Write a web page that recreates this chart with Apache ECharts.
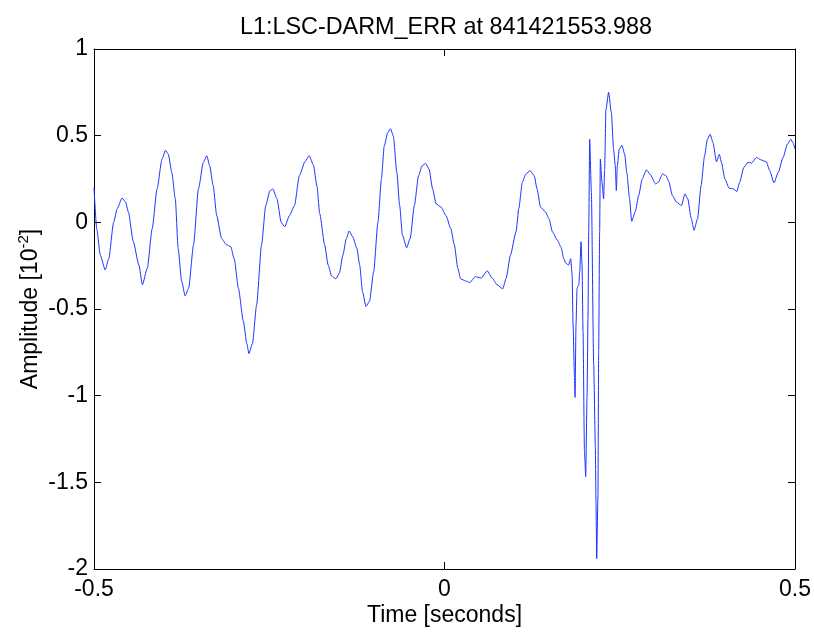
<!DOCTYPE html>
<html>
<head>
<meta charset="utf-8">
<script src="https://cdn.jsdelivr.net/npm/echarts@6/dist/echarts.min.js"></script>
<style>
  html, body { margin: 0; padding: 0; background: #fff; }
  #chart { width: 814px; height: 632px; }
</style>
</head>
<body>
<div id="chart"></div>
<script>
// DARM error signal around the event time (seconds relative to GPS 841421553.988)
var times = [
  -0.500, -0.496, -0.491, -0.484, -0.479, -0.472, -0.467, -0.460, -0.455, -0.451,
  -0.444, -0.436, -0.431, -0.424, -0.417, -0.410, -0.403, -0.398, -0.394, -0.389,
  -0.384, -0.380, -0.375, -0.370, -0.365, -0.358, -0.351, -0.344, -0.339, -0.335,
  -0.330, -0.325, -0.318, -0.311, -0.305, -0.300, -0.294, -0.287, -0.282, -0.279,
  -0.274, -0.268, -0.261, -0.255, -0.249, -0.245, -0.239, -0.233, -0.228, -0.221,
  -0.214, -0.207, -0.199, -0.193, -0.187, -0.182, -0.178, -0.171, -0.166, -0.161,
  -0.155, -0.150, -0.145, -0.140, -0.136, -0.131, -0.125, -0.121, -0.117, -0.112,
  -0.107, -0.101, -0.095, -0.090, -0.086, -0.081, -0.077, -0.073, -0.068, -0.064,
  -0.060, -0.054, -0.049, -0.043, -0.037, -0.032, -0.027, -0.022, -0.017, -0.012,
  -0.005, 0.002, 0.009, 0.014, 0.019, 0.023, 0.030, 0.036, 0.044, 0.052,
  0.061, 0.068, 0.075, 0.083, 0.088, 0.094, 0.102, 0.106, 0.111, 0.116,
  0.122, 0.128, 0.132, 0.137, 0.144, 0.149, 0.154, 0.161, 0.166, 0.170,
  0.173, 0.177, 0.180, 0.182, 0.1834, 0.1854, 0.1862, 0.1876, 0.1891, 0.1915,
  0.1929, 0.1947, 0.1962, 0.1976, 0.1996, 0.2014, 0.2033, 0.2047, 0.2057, 0.2071,
  0.2095, 0.2128, 0.2152, 0.2161, 0.2171, 0.2189, 0.2199, 0.2213, 0.2223, 0.2246,
  0.2270, 0.2284, 0.2303, 0.2341, 0.2380, 0.2412, 0.2436, 0.2451, 0.2465, 0.2493,
  0.253, 0.257, 0.260, 0.264, 0.267, 0.272, 0.277, 0.282, 0.288, 0.293,
  0.301, 0.305, 0.311, 0.316, 0.320, 0.325, 0.331, 0.338, 0.343, 0.347,
  0.352, 0.356, 0.361, 0.366, 0.371, 0.375, 0.379, 0.383, 0.388, 0.392,
  0.395, 0.400, 0.406, 0.412, 0.417, 0.421, 0.427, 0.433, 0.438, 0.445,
  0.451, 0.459, 0.464, 0.470, 0.476, 0.483, 0.489, 0.494, 0.497, 0.500
];
var amplitude = [
  0.20, -0.04, -0.19, -0.275, -0.21, 0.00, 0.078, 0.14, 0.117, 0.06,
  -0.11, -0.246, -0.36, -0.265, -0.036, 0.193, 0.365, 0.416, 0.393, 0.288,
  0.136, -0.15, -0.34, -0.424, -0.38, -0.13, 0.193, 0.346, 0.384, 0.326,
  0.212, 0.04, -0.093, -0.13, -0.14, -0.21, -0.38, -0.57, -0.70, -0.757,
  -0.70, -0.475, -0.13, 0.097, 0.183, 0.193, 0.136, 0.00, -0.026, 0.04,
  0.097, 0.27, 0.35, 0.384, 0.33, 0.21, 0.05, -0.13, -0.246, -0.31,
  -0.326, -0.294, -0.19, -0.093, -0.05, -0.083, -0.15, -0.246, -0.40, -0.485,
  -0.456, -0.284, 0.00, 0.25, 0.44, 0.517, 0.54, 0.498, 0.288, 0.097,
  -0.074, -0.147, -0.093, 0.097, 0.269, 0.326, 0.34, 0.307, 0.193, 0.107,
  0.088, 0.04, -0.036, -0.13, -0.265, -0.326, -0.338, -0.347, -0.313, -0.322,
  -0.28, -0.322, -0.36, -0.384, -0.322, -0.19, -0.055, 0.08, 0.231, 0.279,
  0.298, 0.269, 0.193, 0.088, 0.06, 0.021, -0.055, -0.103, -0.141, -0.208,
  -0.236, -0.246, -0.21, -0.30, -0.59, -0.895, -1.01, -0.59, -0.38, -0.36,
  -0.284, -0.112, -0.246, -0.627, -1.314, -1.467, -1.01, -0.55, -0.055, 0.479,
  0.174, -0.82, -1.295, -1.62, -1.94, -1.58, -0.742, -0.053, 0.365, 0.231,
  0.136, 0.307, 0.651, 0.75, 0.632, 0.422, 0.326, 0.183, 0.326, 0.422,
  0.445, 0.393, 0.288, 0.136, 0.006, 0.06, 0.155, 0.25, 0.303, 0.279,
  0.222, 0.231, 0.279, 0.269, 0.235, 0.155, 0.117, 0.097, 0.164, 0.136,
  0.021, -0.046, 0.021, 0.212, 0.384, 0.479, 0.508, 0.46, 0.349, 0.393,
  0.346, 0.25, 0.197, 0.193, 0.178, 0.231, 0.317, 0.346, 0.342, 0.374,
  0.361, 0.349, 0.298, 0.227, 0.288, 0.374, 0.45, 0.479, 0.46, 0.422
];

var titleText = 'L1:LSC-DARM_ERR at 841421553.988';
var xName = 'Time [seconds]';
var yName = 'Amplitude [10{sup|-2}]';

var FONT = '"Liberation Sans", Arial, Helvetica, sans-serif';
var FS = 23;

var points = times.map(function (t, i) { return [t, amplitude[i]]; });

var chart = echarts.init(document.getElementById('chart'), null, { renderer: 'canvas' });

// plain black box with inward ticks on all four sides
var frameAxis = {
  axisLine: { show: true, onZero: false, lineStyle: { color: '#000', width: 1 } },
  axisTick: { show: true, inside: true, length: 7, lineStyle: { color: '#000', width: 1 } },
  splitLine: { show: false }
};

chart.setOption({
  animation: false,
  backgroundColor: '#ffffff',
  title: {
    text: titleText,
    left: 441,
    top: 11,
    textAlign: 'center',
    textStyle: { fontFamily: FONT, fontSize: 23.4, fontWeight: 'normal', color: '#000' }
  },
  grid: { left: 94, right: 17, top: 49, bottom: 60, containLabel: false },
  xAxis: [
    Object.assign({
      type: 'value', position: 'bottom', min: -0.5, max: 0.5, interval: 0.5,
      name: xName, nameLocation: 'middle', nameGap: 35, nameMoveOverlap: false,
      nameTextStyle: { fontFamily: FONT, fontSize: FS, color: '#000' },
      axisLabel: { margin: 9, fontFamily: FONT, fontSize: FS, color: '#000' }
    }, frameAxis),
    Object.assign({
      type: 'value', position: 'top', min: -0.5, max: 0.5, interval: 0.5,
      axisLabel: { show: false }
    }, frameAxis)
  ],
  yAxis: [
    Object.assign({
      type: 'value', position: 'left', min: -2, max: 1, interval: 0.5,
      name: yName, nameLocation: 'middle', nameGap: 48, nameRotate: 90, nameMoveOverlap: false,
      nameTextStyle: {
        fontFamily: FONT, fontSize: FS, color: '#000', lineHeight: 30,
        rich: { sup: { fontFamily: FONT, fontSize: 15, color: '#000', verticalAlign: 'top', lineHeight: 30 } }
      },
      axisLabel: { margin: 6, fontFamily: FONT, fontSize: FS, color: '#000' }
    }, frameAxis),
    Object.assign({
      type: 'value', position: 'right', min: -2, max: 1, interval: 0.5,
      axisLabel: { show: false }
    }, frameAxis)
  ],
  series: [{
    type: 'line',
    xAxisIndex: 0,
    yAxisIndex: 0,
    data: points,
    showSymbol: false,
    smooth: 0.2,
    smoothMonotone: 'x',
    lineStyle: { color: '#1a33ff', width: 1 },
    silent: true
  }]
});
</script>
</body>
</html>
